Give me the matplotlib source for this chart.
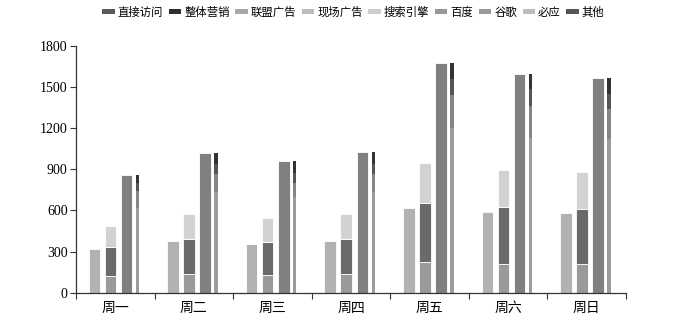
import matplotlib
matplotlib.use("Agg")
import matplotlib.pyplot as plt
from matplotlib.patches import Patch
import numpy as np

plt.rcParams['font.family'] = ['Liberation Serif', 'Noto Sans CJK SC', 'DejaVu Sans']

categories = ['周一', '周二', '周三', '周四', '周五', '周六', '周日']
direct = [320, 375, 355, 378, 615, 590, 578]
marketing = [120, 134, 127, 136, 224, 209, 207]
union_ads = [211, 258, 245, 258, 428, 414, 402]
onsite_ads = [157, 181, 172, 183, 295, 275, 275]
search = [862, 1018, 964, 1026, 1679, 1600, 1570]
baidu = [620, 732, 701, 734, 1205, 1130, 1120]
google = [120, 132, 101, 134, 240, 230, 220]
bing = [60, 72, 71, 74, 115, 130, 110]
other = [62, 82, 91, 84, 119, 110, 120]
yticks = [0, 300, 600, 900, 1200, 1500, 1800]

series_names = ['直接访问', '整体营销', '联盟广告', '现场广告', '搜索引擎', '百度', '谷歌', '必应', '其他']
bar_colors = {
    '直接访问': '#b2b2b2', '整体营销': '#9a9a9a', '联盟广告': '#6a6a6a', '现场广告': '#d2d2d2',
    '搜索引擎': '#808080', '百度': '#9c9c9c', '谷歌': '#858585', '必应': '#555555', '其他': '#333333'}
legend_colors = ['#5a5a5a', '#2e2e2e', '#a8a8a8', '#bcbcbc', '#cdcdcd', '#989898', '#9a9a9a', '#bdbdbd', '#555555']

fig = plt.figure(figsize=(6.73, 3.27), dpi=100)
ax = fig.add_axes([0.113, 0.105, 0.817, 0.754])

x = np.arange(len(categories))
w = 0.147
wt = 0.045
ec = dict(edgecolor='white', linewidth=0.6)

ax.bar(x - 0.264, direct, w, color=bar_colors['直接访问'], **ec)
b = np.zeros(len(x))
for name, vals in [('整体营销', marketing), ('联盟广告', union_ads), ('现场广告', onsite_ads)]:
    ax.bar(x - 0.06, vals, w, bottom=b, color=bar_colors[name], **ec)
    b = b + np.array(vals)
ax.bar(x + 0.144, search, w, color=bar_colors['搜索引擎'], **ec)
b = np.zeros(len(x))
for name, vals in [('百度', baidu), ('谷歌', google), ('必应', bing), ('其他', other)]:
    ax.bar(x + 0.284, vals, wt, bottom=b, color=bar_colors[name], edgecolor='none')
    b = b + np.array(vals)

ax.set_xlim(-0.5, len(categories) - 0.5)
ax.set_ylim(0, 1800)
ax.set_yticks(yticks)
ax.set_yticklabels([str(v) for v in yticks], fontsize=10)
ax.set_xticks(x)
ax.set_xticklabels(categories, fontsize=10)
ax.set_xticks(np.arange(-0.5, len(categories)), minor=True)
ax.tick_params(axis='x', which='major', length=0, pad=7)
ax.tick_params(axis='x', which='minor', length=4, color='#333333', width=0.8)
ax.tick_params(axis='y', length=4, color='#333333', width=0.8, pad=2)
for s in ['top', 'right']:
    ax.spines[s].set_visible(False)
for s in ['left', 'bottom']:
    ax.spines[s].set_color('#333333')
    ax.spines[s].set_linewidth(0.9)

handles = [Patch(facecolor=c, edgecolor='none') for c in legend_colors]
leg = fig.legend(handles, series_names, loc='upper center', bbox_to_anchor=(0.525, 1.0),
                 ncol=9, frameon=False, fontsize=8.2, handlelength=1.1, handleheight=0.35,
                 handletextpad=0.25, columnspacing=0.5, borderaxespad=0.15)

fig.savefig('out.png', dpi=100)
